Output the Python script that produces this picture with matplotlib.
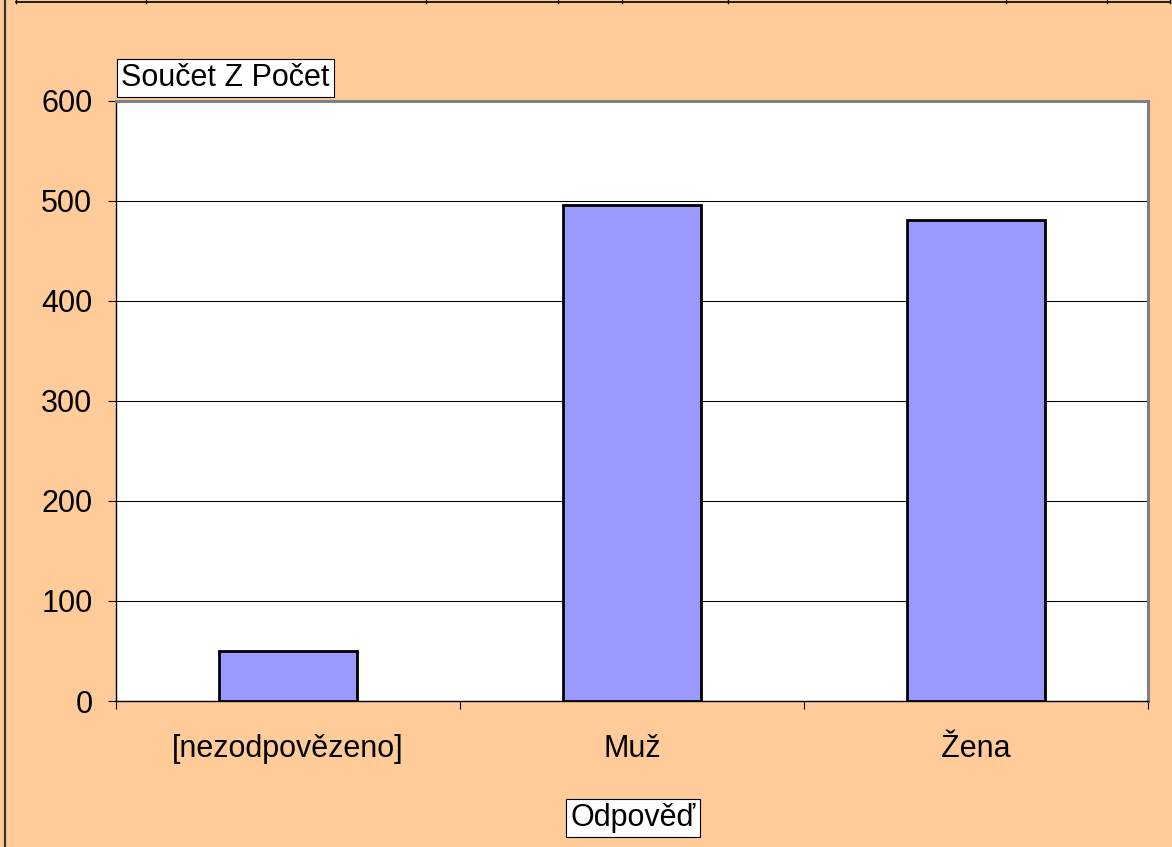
import matplotlib
matplotlib.use('Agg')
import matplotlib.pyplot as plt
from matplotlib.lines import Line2D

# Data
kategorie = ['[nezodpovězeno]', 'Muž', 'Žena']
pocty = [50, 496, 481]
y_ticks = [0, 100, 200, 300, 400, 500, 600]

W, H = 1172, 847
DPI = 100
bg = '#FFCC99'
bar_color = '#9999FF'
fs = 22

plt.rcParams['font.family'] = ['Liberation Sans', 'DejaVu Sans']

fig = plt.figure(figsize=(W / DPI, H / DPI), dpi=DPI, facecolor=bg)

# plot area in pixels: left 116, top 101, right 1148, bottom 701
ax = fig.add_axes([116 / W, (H - 701) / H, 1032 / W, 600 / H])
ax.set_facecolor('white')

x = list(range(len(kategorie)))
ax.bar(x, pocty, width=0.4, color=bar_color, edgecolor='black', linewidth=2.0, zorder=3)

ax.set_xlim(-0.5, len(kategorie) - 0.5)
ax.set_ylim(0, 600)
ax.set_yticks(y_ticks)
ax.yaxis.grid(True, color='black', linewidth=0.75, zorder=0)
ax.set_axisbelow(True)

# category labels in the middle, tick marks on the boundaries
ax.set_xticks(x)
ax.set_xticklabels(kategorie)
ax.set_xticks([i - 0.5 for i in range(len(kategorie) + 1)], minor=True)
ax.tick_params(axis='x', which='major', length=0, pad=24, labelsize=fs)
ax.tick_params(axis='x', which='minor', length=6, width=0.8, direction='out', color='black')
ax.tick_params(axis='y', length=6, width=0.8, direction='out', pad=11, labelsize=fs)

for s in ['left', 'bottom']:
    ax.spines[s].set_color('black')
    ax.spines[s].set_linewidth(1.0)
for s in ['top', 'right']:
    ax.spines[s].set_color('#808080')
    ax.spines[s].set_linewidth(2.2)

# field buttons
box = dict(boxstyle='square,pad=0.14', facecolor='white', edgecolor='black', linewidth=0.8)
fig.text(121 / W, 1 - 78 / H, 'Součet Z Počet', fontsize=fs, ha='left', va='center', bbox=box)
fig.text(633 / W, 1 - 818 / H, 'Odpověď', fontsize=fs, ha='center', va='center', bbox=box)

# table grid strip above the chart and left border
cell_edges = [16, 146, 426, 558, 622, 728, 1006, 1107, 1170]
fig.add_artist(Line2D([16 / W, 1170 / W], [1 - 2.5 / H, 1 - 2.5 / H], color='black', linewidth=1.2))
for cx in cell_edges:
    fig.add_artist(Line2D([cx / W, cx / W], [1, 1 - 3 / H], color='black', linewidth=1.0))
fig.add_artist(Line2D([5 / W, 5 / W], [0, 1], color='#333333', linewidth=1.6))

fig.savefig('out.png', dpi=DPI, facecolor=bg)
